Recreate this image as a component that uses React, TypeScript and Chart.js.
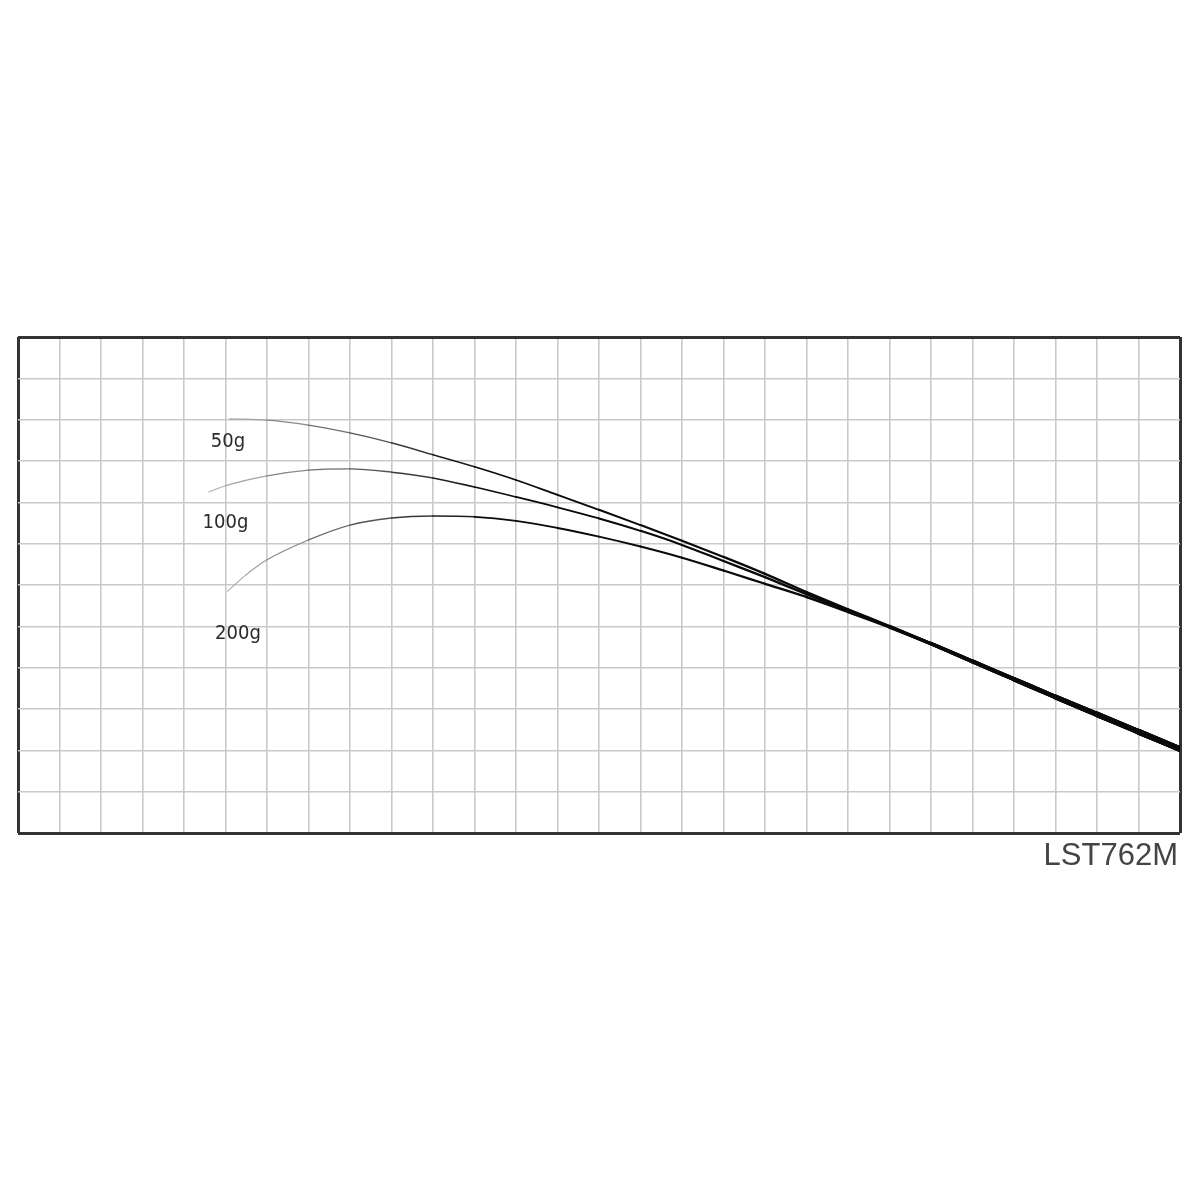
import { useEffect, useRef } from "react";
import { Chart, registerables } from "chart.js";

Chart.register(...registerables);

// grid stations along the rod (one per column), shared by the three loads
const stations = [6, 7, 8, 9, 10, 11, 12, 13, 14, 15, 16, 17, 18, 19, 20, 21, 22, 23, 24, 25, 26, 27, 28];

const bend50 = [9.99, 9.87, 9.68, 9.44, 9.15, 8.86, 8.54, 8.18, 7.82, 7.45, 7.07, 6.68, 6.27, 5.83, 5.41, 5.0, 4.58, 4.15, 3.72, 3.29, 2.87, 2.45, 2.03];
const bend100 = [8.64, 8.78, 8.81, 8.73, 8.59, 8.37, 8.13, 7.88, 7.61, 7.31, 6.97, 6.58, 6.19, 5.78, 5.38, 4.99, 4.58, 4.15, 3.72, 3.29, 2.87, 2.45, 2.03];
const bend200 = [6.61, 7.09, 7.45, 7.62, 7.67, 7.65, 7.55, 7.38, 7.17, 6.93, 6.66, 6.35, 6.03, 5.71, 5.35, 4.98, 4.58, 4.15, 3.72, 3.29, 2.87, 2.45, 2.03];

// rod tips, left of the first station
const tip50X = [5.1];
const tip50Y = [10.02];
const tip100X = [4.6, 5];
const tip100Y = [8.25, 8.4];
const tip200X = [5.05, 5.5];
const tip200Y = [5.85, 6.25];

const loadNames = ["50g", "100g", "200g"];
const modelName = "LST762M";

const X_MAX = 28;
const Y_MAX = 12;

// where the load names sit (data units, baseline)
const labelAt = [
  { x: 5.06, y: 9.34 },
  { x: 5.0, y: 7.38 },
  { x: 5.3, y: 4.69 },
];

const toPoints = (tx: number[], ty: number[], ys: number[]) => [
  ...tx.map((x, i) => ({ x, y: ty[i] })),
  ...stations.map((x, i) => ({ x, y: ys[i] })),
];

// rod gets thicker and darker towards the butt
const widthAt = (x: number) => (x <= 20 ? 0.6 + 0.095 * x : 2.5 + (x - 20) * 0.45);
const colorAt = (x: number) => {
  const g = Math.round(Math.max(10, Math.min(175, 175 - (x - 5) * 26)));
  return `rgb(${g},${g},${g})`;
};

const labelPlugin = {
  id: "rodLabels",
  afterDatasetsDraw(chart: any) {
    const { ctx, chartArea, scales } = chart;
    ctx.save();
    ctx.fillStyle = "#2a2a2a";
    ctx.font = "20px 'DejaVu Sans Condensed'";
    ctx.textAlign = "center";
    ctx.textBaseline = "alphabetic";
    loadNames.forEach((name, i) => {
      ctx.fillText(name, scales.x.getPixelForValue(labelAt[i].x), scales.y.getPixelForValue(labelAt[i].y));
    });
    ctx.fillStyle = "#444";
    ctx.font = "31px 'Liberation Sans'";
    ctx.textAlign = "right";
    ctx.fillText(modelName, chartArea.right - 2, chartArea.bottom + 32);
    ctx.restore();
  },
};

export default function App() {
  const chartRef = useRef<HTMLCanvasElement>(null);

  useEffect(() => {
    document.body.style.margin = "0";
    if (!chartRef.current) return;
    const ctx = chartRef.current.getContext("2d");
    if (!ctx) return;

    const lineStyle = {
      pointRadius: 0,
      borderColor: "#222",
      borderCapStyle: "round" as const,
      borderJoinStyle: "round" as const,
      cubicInterpolationMode: "monotone" as const,
      fill: false,
      segment: {
        borderWidth: (c: any) => widthAt((c.p0.parsed.x + c.p1.parsed.x) / 2),
        borderColor: (c: any) => colorAt((c.p0.parsed.x + c.p1.parsed.x) / 2),
      },
    };

    const edge = (v: number, max: number) => v === 0 || v === max;

    const chart = new Chart(ctx, {
      type: "line",
      data: {
        datasets: [
          { label: loadNames[2], data: toPoints(tip200X, tip200Y, bend200), ...lineStyle },
          { label: loadNames[1], data: toPoints(tip100X, tip100Y, bend100), ...lineStyle },
          { label: loadNames[0], data: toPoints(tip50X, tip50Y, bend50), ...lineStyle },
        ],
      },
      options: {
        responsive: true,
        maintainAspectRatio: false,
        animation: false,
        events: [],
        layout: { padding: { left: 18, top: 337, right: 20, bottom: 367 } },
        plugins: {
          legend: { display: false },
          tooltip: { enabled: false },
        },
        scales: {
          x: {
            type: "linear",
            min: 0,
            max: X_MAX,
            ticks: { display: false, stepSize: 1, maxTicksLimit: 100 },
            border: { display: false },
            grid: {
              drawTicks: false,
              color: (c: any) => (edge(c.tick?.value, X_MAX) ? "#333" : "#c9c9c9"),
              lineWidth: (c: any) => (edge(c.tick?.value, X_MAX) ? 3 : 1.6),
            },
          },
          y: {
            type: "linear",
            min: 0,
            max: Y_MAX,
            ticks: { display: false, stepSize: 1, maxTicksLimit: 100 },
            border: { display: false },
            grid: {
              drawTicks: false,
              color: (c: any) => (edge(c.tick?.value, Y_MAX) ? "#333" : "#c9c9c9"),
              lineWidth: (c: any) => (edge(c.tick?.value, Y_MAX) ? 3 : 1.6),
            },
          },
        },
      },
      plugins: [labelPlugin],
    });

    return () => chart.destroy();
  }, []);

  return (
    <div style={{ width: 1200, height: 1200, background: "#fff" }}>
      <canvas ref={chartRef} />
    </div>
  );
}
